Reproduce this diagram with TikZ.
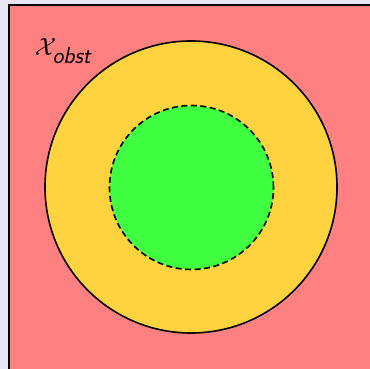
\documentclass[tikz,border=0pt]{standalone}
\usepackage{amsmath}
\begin{document}
\begin{tikzpicture}[x=1pt,y=1pt,
  bgfill/.style={fill={rgb,255:red,234;green,230;blue,245}},
  obst/.style={fill={rgb,255:red,255;green,128;blue,128},draw=black,line width=2pt},
  outer/.style={fill={rgb,255:red,255;green,211;blue,63},draw=black,line width=1.6pt},
  inner/.style={fill={rgb,255:red,64;green,255;blue,64},draw=black,line width=1.6pt,dash pattern=on 6pt off 3.5pt}]
\useasboundingbox (0,0) rectangle (370,369);
\fill[bgfill] (0,0) rectangle (370,369);
\clip (0,0) rectangle (370,369);
\draw[obst] (9,-20) rectangle (400,363.5);
\draw[outer] (191,182) circle[radius=146];
\draw[inner] (191.5,181.5) circle[radius=82];
\node[inner sep=0pt] (lbl) at (63,318) {\fontsize{33}{40}\selectfont $\mathcal{X}_{\textsf{\itshape obst}}$};
\end{tikzpicture}
\end{document}
